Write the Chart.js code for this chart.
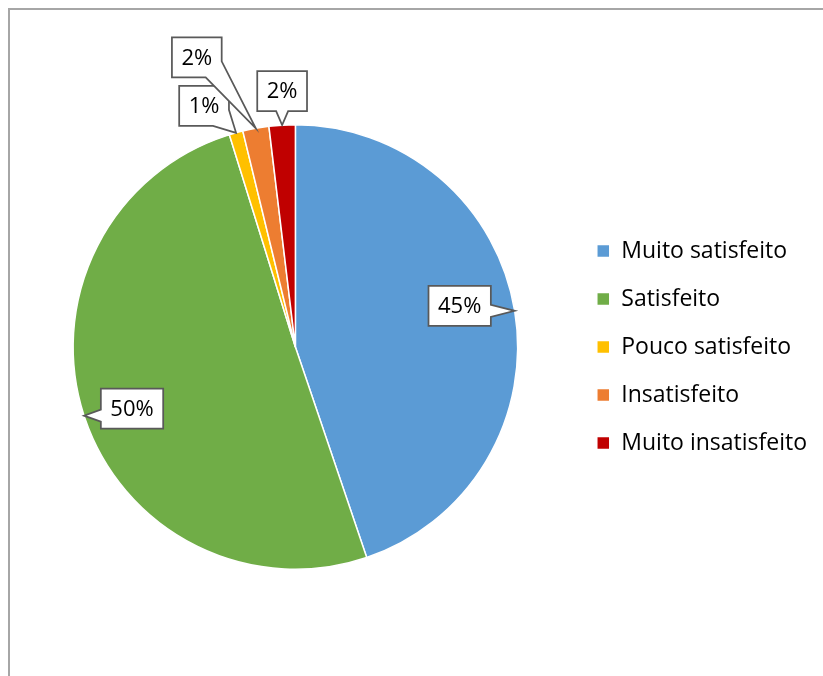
<!DOCTYPE html>
<html>
<head>
<meta charset="utf-8">
<script src="https://cdn.jsdelivr.net/npm/chart.js@4.4.1/dist/chart.umd.min.js"></script>
<style>
    body{ margin:0; background:#fff; }
    #wrap{ position:relative; width:823px; height:676px; overflow:hidden; }
    #frame{ position:absolute; left:8px; top:8px; width:900px; height:900px;
            border-left:2px solid #a6a6a6; border-top:2px solid #a6a6a6; }
    #chart{ position:absolute; left:0; top:0; }
</style>
</head>
<body>
<div id="wrap">
    <div id="frame"></div>
    <canvas id="chart" width="823" height="676"></canvas>
</div>

<script>

// ================= DATA =================

const categories = ['Muito satisfeito', 'Satisfeito', 'Pouco satisfeito', 'Insatisfeito', 'Muito insatisfeito'];
const shares = [44.8, 50.4, 1.0, 1.9, 1.9];
const colors = ['#5B9BD5', '#70AD47', '#FFC000', '#ED7D31', '#C00000'];

// where each callout box sits, relative to the point it marks on the rim
const calloutOffsets = [[-55, -5], [48, -7], [-32, -27], [-59, -71], [0, -34]];


// ================= CALLOUT LABELS =================

function calloutPath(ctx, cx, cy, w, h, tx, ty){

    const l = cx - w / 2, r = cx + w / 2, t = cy - h / 2, b = cy + h / 2;
    const half = 6, d = 16;
    let pts;

    const clamp = (v, lo, hi) => Math.max(lo, Math.min(hi, v));

    if(tx >= l && tx <= r){
        const c = clamp(tx, l + 10, r - 10);
        if(ty < t){
            pts = [[l,t],[c-half,t],[tx,ty],[c+half,t],[r,t],[r,b],[l,b]];
        }else{
            pts = [[l,t],[r,t],[r,b],[c+half,b],[tx,ty],[c-half,b],[l,b]];
        }
    }else if(ty >= t && ty <= b){
        const c = clamp(ty, t + 10, b - 10);
        if(tx > r){
            pts = [[l,t],[r,t],[r,c-half],[tx,ty],[r,c+half],[r,b],[l,b]];
        }else{
            pts = [[l,t],[r,t],[r,b],[l,b],[l,c+half],[tx,ty],[l,c-half]];
        }
    }else if(tx > r && ty > b){
        pts = [[l,t],[r,t],[r,b-d],[tx,ty],[r-d,b],[l,b]];
    }else if(tx < l && ty > b){
        pts = [[l,t],[r,t],[r,b],[l+d,b],[tx,ty],[l,b-d]];
    }else if(tx > r && ty < t){
        pts = [[l,t],[r-d,t],[tx,ty],[r,t+d],[r,b],[l,b]];
    }else{
        pts = [[l+d,t],[r,t],[r,b],[l,b],[l,t+d],[tx,ty]];
    }

    ctx.beginPath();
    ctx.moveTo(pts[0][0], pts[0][1]);
    for(let i = 1; i < pts.length; i++){
        ctx.lineTo(pts[i][0], pts[i][1]);
    }
    ctx.closePath();
}

const calloutPlugin = {
    id: 'callouts',
    afterDatasetsDraw(chart){

        const ctx = chart.ctx;
        const meta = chart.getDatasetMeta(0);
        const values = chart.data.datasets[0].data;
        const total = values.reduce((a, v) => a + v, 0);

        ctx.save();
        ctx.font = '22px "Open Sans"';
        ctx.textAlign = 'center';
        ctx.textBaseline = 'middle';
        ctx.lineJoin = 'miter';

        meta.data.forEach((arc, i) => {

            const p = arc.getProps(['x', 'y', 'startAngle', 'endAngle', 'outerRadius'], true);
            const mid = (p.startAngle + p.endAngle) / 2;
            const tx = p.x + Math.cos(mid) * p.outerRadius;
            const ty = p.y + Math.sin(mid) * p.outerRadius;

            const text = Math.round(values[i] / total * 100) + '%';
            const w = ctx.measureText(text).width + 19;
            const h = 40;
            const cx = tx + calloutOffsets[i][0];
            const cy = ty + calloutOffsets[i][1];

            calloutPath(ctx, cx, cy, w, h, tx, ty);
            ctx.fillStyle = '#ffffff';
            ctx.fill();
            ctx.strokeStyle = '#595959';
            ctx.lineWidth = 1.75;
            ctx.stroke();

            ctx.fillStyle = '#000000';
            ctx.fillText(text, cx, cy + 1);
        });

        ctx.restore();
    }
};


// ================= PIE CHART =================

new Chart(document.getElementById('chart'), {
    type: 'pie',
    data: {
        labels: categories,
        datasets: [{
            data: shares,
            backgroundColor: colors,
            borderColor: '#ffffff',
            borderWidth: 1.5
        }]
    },
    options: {
        responsive: false,
        animation: false,
        layout: {
            padding: { top: 124, bottom: 106, left: 19, right: 6 }
        },
        plugins: {
            tooltip: { enabled: false },
            legend: {
                position: 'right',
                labels: {
                    boxWidth: 13,
                    boxHeight: 13,
                    padding: 25,
                    color: '#000000',
                    font: { family: 'Open Sans', size: 23 }
                }
            }
        }
    },
    plugins: [calloutPlugin]
});

</script>
</body>
</html>
